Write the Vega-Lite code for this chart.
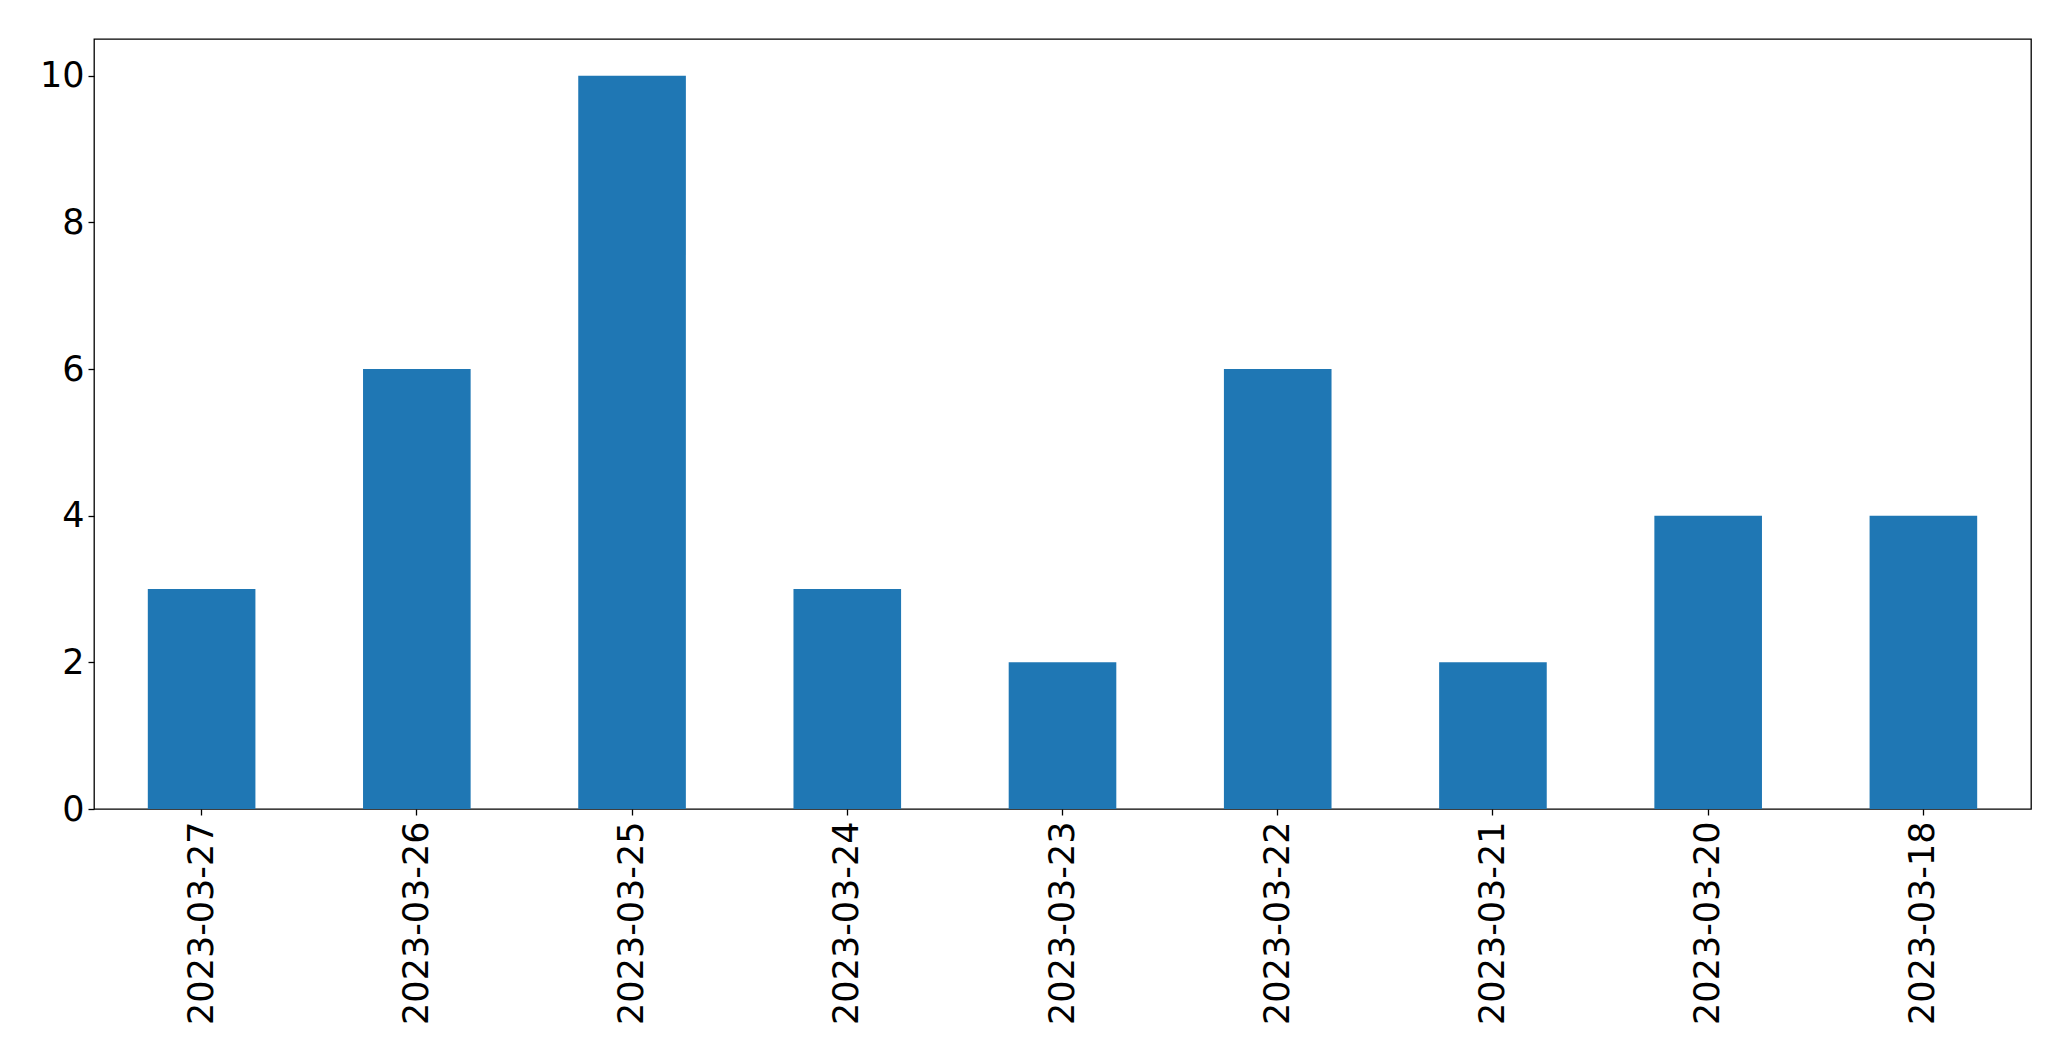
{
  "$schema": "https://vega.github.io/schema/vega-lite/v6.json",
  "width": 1937,
  "height": 770,
  "autosize": {"type": "none"},
  "padding": {"left": 94, "top": 39, "right": 40, "bottom": 252},
  "background": "white",
  "config": {
    "view": {"stroke": "black", "strokeWidth": 1.3},
    "font": "DejaVu Sans"
  },
  "data": {
    "values": [
      {"date": "2023-03-27", "count": 3},
      {"date": "2023-03-26", "count": 6},
      {"date": "2023-03-25", "count": 10},
      {"date": "2023-03-24", "count": 3},
      {"date": "2023-03-23", "count": 2},
      {"date": "2023-03-22", "count": 6},
      {"date": "2023-03-21", "count": 2},
      {"date": "2023-03-20", "count": 4},
      {"date": "2023-03-18", "count": 4}
    ]
  },
  "mark": {"type": "bar", "color": "#1f77b4"},
  "encoding": {
    "x": {
      "field": "date",
      "type": "nominal",
      "sort": null,
      "scale": {"paddingInner": 0.5, "paddingOuter": 0.25},
      "axis": {
        "title": null,
        "labelAngle": -90,
        "labelAlign": "right",
        "labelBaseline": "middle",
        "labelFontSize": 35,
        "labelLimit": 0,
        "labelColor": "black",
        "labelPadding": 6,
        "domain": false,
        "ticks": true,
        "tickColor": "black",
        "tickSize": 6,
        "tickWidth": 1.3,
        "grid": false
      }
    },
    "y": {
      "field": "count",
      "type": "quantitative",
      "scale": {"domain": [0, 10.5], "nice": false},
      "axis": {
        "title": null,
        "values": [0, 2, 4, 6, 8, 10],
        "labelFontSize": 35,
        "labelColor": "black",
        "labelPadding": 4,
        "domain": false,
        "ticks": true,
        "tickColor": "black",
        "tickSize": 6,
        "tickWidth": 1.3,
        "grid": false
      }
    }
  }
}
